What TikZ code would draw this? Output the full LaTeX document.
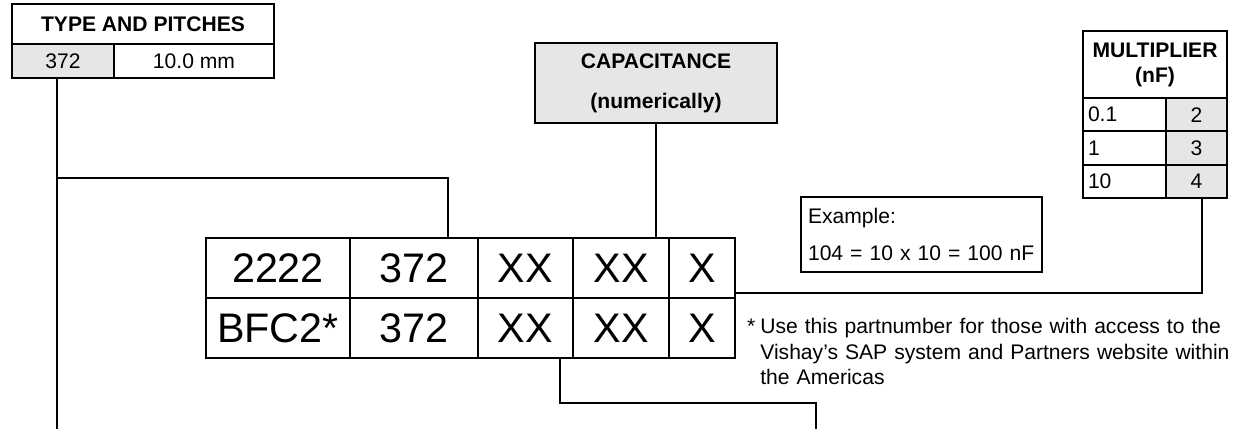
\documentclass[tikz,border=0pt]{standalone}
\usepackage{fontspec}
\setmainfont{Liberation Sans}
\definecolor{cellgray}{RGB}{230,230,230}

\begin{document}
\begin{tikzpicture}[x=0.02cm,y=-0.02cm,
  box/.style={draw,line width=1.1pt,inner sep=0pt,font=\fontsize{12}{14.5}\selectfont},
  shaded/.style={box,fill=cellgray},
  part/.style={draw,line width=1.6pt,inner sep=0pt,minimum height=1.2cm,font=\fontsize{23.5}{28}\selectfont},
  link/.style={line width=1.1pt}]
\useasboundingbox (0,0) rectangle (1247,429);
\node[box,minimum width=5.24cm,minimum height=0.8cm,font=\fontsize{12}{14.5}\selectfont\bfseries] at (143,24) (tphead) {TYPE AND PITCHES};
\node[shaded,minimum width=2.04cm,minimum height=0.68cm] at (63,61) (tp372) {372};
\node[box,minimum width=3.2cm,minimum height=0.68cm] at (194,61) (tppitch) {10.0 mm};
\node[shaded,minimum width=4.84cm,minimum height=1.6cm,align=center,font=\fontsize{12}{22.8}\selectfont\bfseries] at (656,83) (cap) {CAPACITANCE\\(numerically)};
\node[box,minimum width=2.88cm,minimum height=1.34cm,align=center,font=\fontsize{12}{14.2}\selectfont\bfseries] at (1155,64.5) (mulhead) {MULTIPLIER\\(nF)};
\node[box,minimum height=0.667cm,text width=1.46cm,inner xsep=0.1cm,align=left] at (1124.5,114.7) (mul01) {0.1};
\node[shaded,minimum width=1.22cm,minimum height=0.667cm] at (1196.5,114.7) (mul2) {2};
\node[box,minimum height=0.667cm,text width=1.46cm,inner xsep=0.1cm,align=left] at (1124.5,148) (mul1) {1};
\node[shaded,minimum width=1.22cm,minimum height=0.667cm] at (1196.5,148) (mul3) {3};
\node[box,minimum height=0.667cm,text width=1.46cm,inner xsep=0.1cm,align=left] at (1124.5,181.3) (mul10) {10};
\node[shaded,minimum width=1.22cm,minimum height=0.667cm] at (1196.5,181.3) (mul4) {4};
\node[box,minimum height=1.5cm,text width=4.54cm,inner xsep=0.14cm,align=left,font=\fontsize{12}{21}\selectfont] at (921.5,234.5) (example) {Example:\\104 = 10 x 10 = 100 nF};
\node[part,minimum width=2.88cm] at (278,268) (p2222) {2222};
\node[part,minimum width=2.56cm] at (414,268) (p372a) {372};
\node[part,minimum width=1.9cm] at (525.5,268) (pxxa) {XX};
\node[part,minimum width=1.92cm] at (621,268) (pxxb) {XX};
\node[part,minimum width=1.32cm] at (702,268) (pxa) {X};
\node[part,minimum width=2.88cm] at (278,328) (pbfc) {BFC2*};
\node[part,minimum width=2.56cm] at (414,328) (p372b) {372};
\node[part,minimum width=1.9cm] at (525.5,328) (pxxc) {XX};
\node[part,minimum width=1.92cm] at (621,328) (pxxd) {XX};
\node[part,minimum width=1.32cm] at (702,328) (pxb) {X};
\node[anchor=north west,inner sep=0pt,text width=9.6cm,align=left,font=\fontsize{12}{14.5}\selectfont] at (760,318) (note) {\llap{*\hspace{0.1cm}}\makebox[9.6cm][s]{Use this partnumber for those with access to the}\\\makebox[9.6cm][s]{Vishay's SAP system and Partners website within}\\the Americas};
\coordinate (tpjoin) at (57,178);
\coordinate (tpend) at (57,429);
\coordinate (lowjoin) at (816,403);
\coordinate (lowend) at (816,429);
\draw[link] ([xshift=-0.12cm]tp372.south) -- (tpend);
\draw[link] ([xshift=0.68cm]p372a.north) |- (tpjoin);
\draw[link] (cap.south) -- (cap.south |- pxxb.north);
\draw[link] ([xshift=0.11cm]mul4.south) |- ([yshift=-0.5cm]pxa.east);
\draw[link] ([xshift=0.69cm]pxxc.south) |- (lowjoin) -- (lowend);
\end{tikzpicture}
\end{document}
